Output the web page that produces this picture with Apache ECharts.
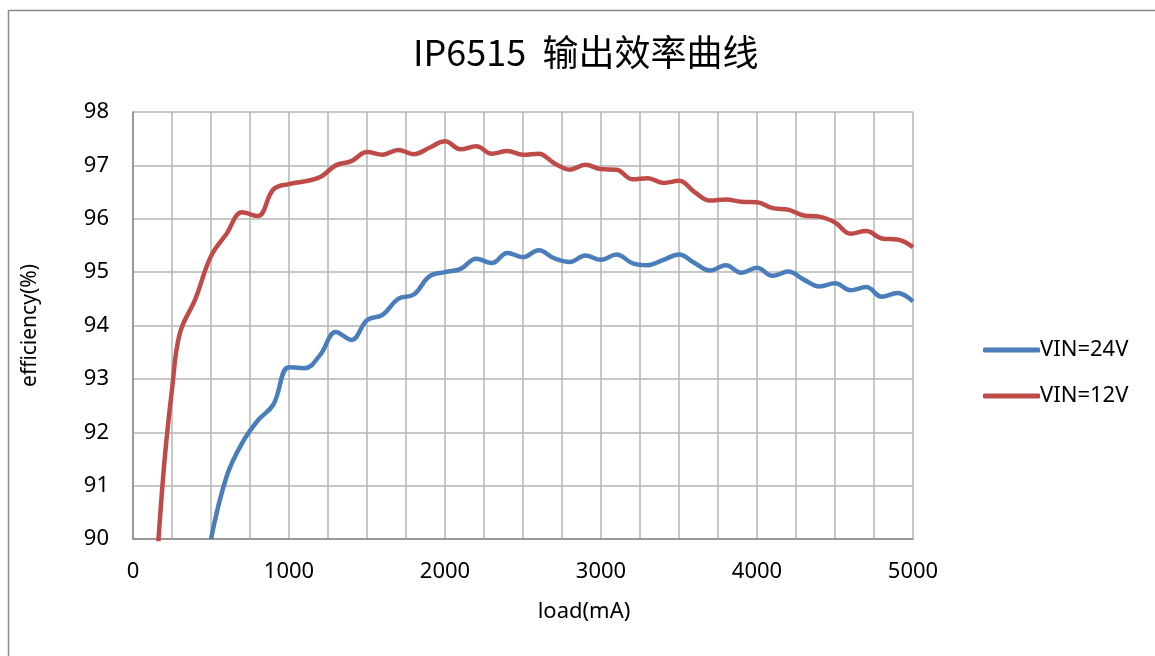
<!DOCTYPE html>
<html style="height: 100%">
<head>
    <meta charset="utf-8">
    <script src="https://cdn.jsdelivr.net/npm/echarts@6/dist/echarts.min.js"></script>
</head>
<body style="height: 100%; margin: 0; background: #fff">
    <div id="container" style="width: 1155px; height: 656px"></div>
    <script type="text/javascript">
        // load (mA) and efficiency (%)
        var load12 = [150, 200, 250, 300, 400, 500, 600, 700, 800, 900, 1000, 1100, 1200, 1300, 1400,
            1500, 1600, 1700, 1800, 1900, 2000, 2100, 2200, 2300, 2400, 2500, 2600, 2700, 2800, 2900,
            3000, 3100, 3200, 3300, 3400, 3500, 3600, 3700, 3800, 3900, 4000, 4100, 4200, 4300, 4400,
            4500, 4600, 4700, 4800, 4900, 5000];
        var eff12 = [89.4, 91.4, 92.8, 93.85, 94.5, 95.3, 95.72, 96.12, 96.05, 96.55, 96.65, 96.7, 96.78, 97.0, 97.08,
            97.25, 97.2, 97.29, 97.21, 97.33, 97.45, 97.3, 97.36, 97.22, 97.27, 97.2, 97.22, 97.04, 96.92, 97.01,
            96.93, 96.92, 96.74, 96.76, 96.67, 96.71, 96.5, 96.34, 96.36, 96.32, 96.31, 96.2, 96.17, 96.06, 96.04,
            95.93, 95.72, 95.77, 95.63, 95.61, 95.47];

        var load24 = [500, 600, 700, 800, 900, 1000, 1100, 1200, 1300, 1400,
            1500, 1600, 1700, 1800, 1900, 2000, 2100, 2200, 2300, 2400, 2500, 2600, 2700, 2800, 2900,
            3000, 3100, 3200, 3300, 3400, 3500, 3600, 3700, 3800, 3900, 4000, 4100, 4200, 4300, 4400,
            4500, 4600, 4700, 4800, 4900, 5000];
        var eff24 = [90.0, 91.17, 91.8, 92.22, 92.52, 93.22, 93.2, 93.45, 93.88, 93.73,
            94.1, 94.2, 94.5, 94.58, 94.92, 95.0, 95.06, 95.25, 95.17, 95.36, 95.28, 95.41, 95.26, 95.19, 95.31,
            95.23, 95.33, 95.17, 95.13, 95.23, 95.33, 95.17, 95.03, 95.13, 94.99, 95.08, 94.93, 95.01, 94.86, 94.73,
            94.79, 94.66, 94.72, 94.54, 94.61, 94.45];

        function pairs(xs, ys) {
            return xs.map(function (x, i) { return [x, ys[i]]; });
        }

        var font = 'Noto Sans';
        var gridColor = '#b4b4b4';

        var myChart = echarts.init(document.getElementById('container'));
        var option = {
            backgroundColor: '#fff',
            animation: false,
            graphic: [{
                type: 'rect',
                shape: { x: 8.5, y: 10.5, width: 1200, height: 700 },
                style: { fill: 'none', stroke: '#8a8a8a', lineWidth: 1.5 },
                silent: true
            }],
            title: {
                text: 'IP6515  输出效率曲线',
                left: 408,
                top: 29,
                textStyle: { fontFamily: 'Noto Sans CJK SC', fontSize: 36, fontWeight: 'normal', color: '#000' }
            },
            grid: { left: 133, right: 242, top: 112, bottom: 117 },
            legend: {
                orient: 'vertical',
                left: 978,
                top: 334,
                itemWidth: 57,
                itemHeight: 5,
                itemGap: 24,
                icon: 'roundRect',
                textStyle: { fontFamily: font, fontSize: 22, color: '#000', padding: [0, 0, 0, -5] },
                data: ['VIN=24V', 'VIN=12V']
            },
            xAxis: {
                type: 'value',
                min: 0,
                max: 5000,
                interval: 250,
                name: 'load(mA)',
                nameLocation: 'middle',
                nameGap: 62,
                nameTextStyle: { fontFamily: font, fontSize: 22, color: '#000', padding: [0, 0, 0, 122] },
                axisLine: { lineStyle: { color: '#8a8a8a', width: 1.5 } },
                axisTick: { show: false },
                axisLabel: {
                    margin: 22,
                    fontFamily: font, fontSize: 22, color: '#000',
                    formatter: function (v) { return v % 1000 === 0 ? v : ''; }
                },
                splitLine: { lineStyle: { color: gridColor, width: 1.5 } }
            },
            yAxis: {
                type: 'value',
                min: 90,
                max: 98,
                interval: 1,
                name: 'efficiency(%)',
                nameLocation: 'middle',
                nameGap: 92,
                nameTextStyle: { fontFamily: font, fontSize: 21, color: '#000' },
                axisLine: { show: true, lineStyle: { color: '#8a8a8a', width: 1.5 } },
                axisTick: { show: false },
                axisLabel: { margin: 24, fontFamily: font, fontSize: 22, color: '#000' },
                splitLine: { lineStyle: { color: gridColor, width: 1.5 } }
            },
            series: [{
                name: 'VIN=24V',
                type: 'line',
                smooth: 0.4,
                symbol: 'none',
                clip: true,
                lineStyle: { color: '#4a7ebb', width: 4.5 },
                itemStyle: { color: '#4a7ebb' },
                data: pairs(load24, eff24)
            }, {
                name: 'VIN=12V',
                type: 'line',
                smooth: 0.4,
                symbol: 'none',
                clip: true,
                lineStyle: { color: '#be4b48', width: 4.5 },
                itemStyle: { color: '#be4b48' },
                data: pairs(load12, eff12)
            }]
        };
        myChart.setOption(option, true);
    </script>
</body>
</html>
